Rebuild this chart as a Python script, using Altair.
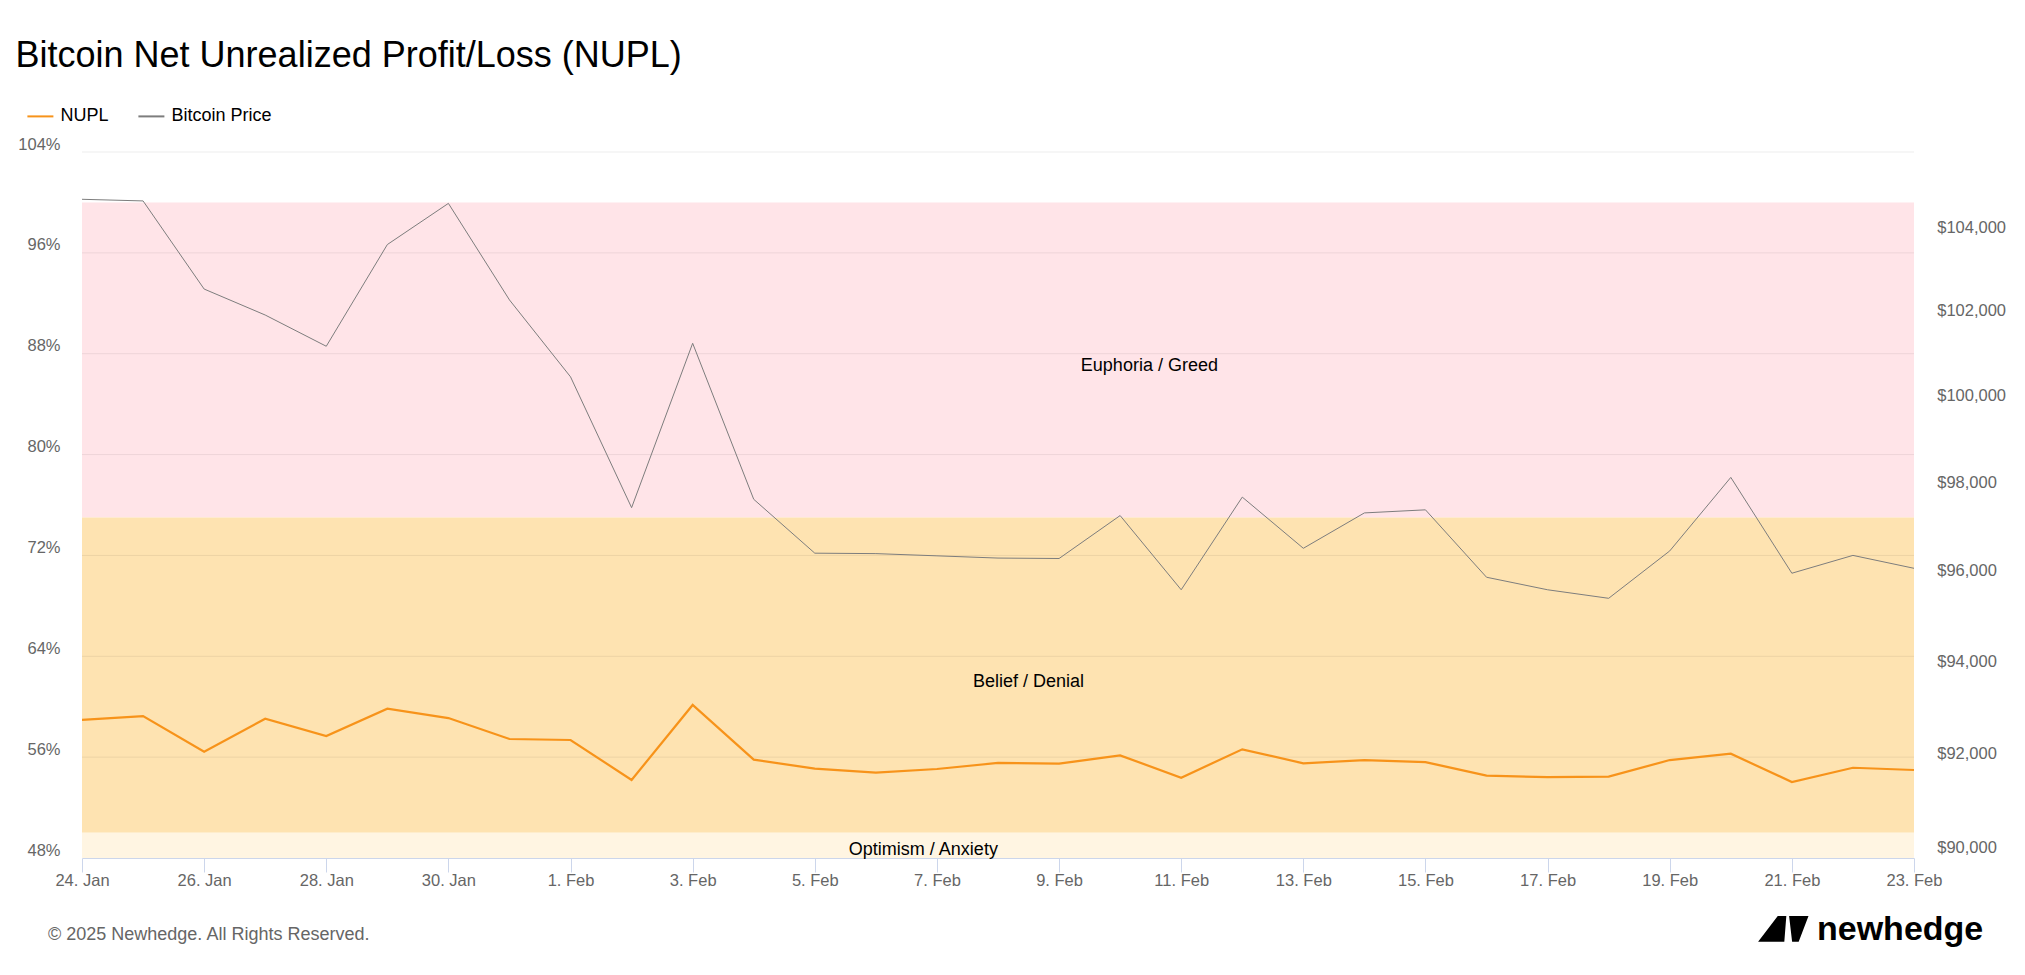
import altair as alt
import pandas as pd

FONT = "Liberation Sans"

# ---- data ----
dates = [f"2025-01-{d:02d}" for d in range(24, 32)] + [f"2025-02-{d:02d}" for d in range(1, 24)]

nupl_pct = [58.95, 59.26, 56.43, 59.05, 57.68, 59.84, 59.10, 57.44, 57.36, 54.19,
            60.14, 55.80, 55.09, 54.77, 55.06, 55.54, 55.48, 56.14, 54.37, 56.62,
            55.51, 55.77, 55.61, 54.53, 54.42, 54.45, 55.77, 56.27, 54.03, 55.16, 54.98]

btc_price = [104900, 104860, 102730, 102110, 101370, 103800, 104800, 102470, 100650, 97630,
             101440, 97820, 96600, 96590, 96540, 96490, 96480, 97450, 95780, 97870,
             96710, 97510, 97580, 96060, 95780, 95590, 96650, 98320, 96150, 96550, 96260]

series_names = ["NUPL", "Bitcoin Price"]
series_colors = ["#f7931a", "#7d7d7d"]

zone_names = ["Euphoria / Greed", "Belief / Denial", "Optimism / Anxiety"]
zone_lower = [75, 50, 25]
zone_upper = [100, 75, 50]
zone_colors = ["#ffe4e8", "#fee3b1", "#fff5e2"]
zone_label_dates = ["2025-02-10T11:30:00Z", "2025-02-08T12:00:00Z", "2025-02-06T18:40:00Z"]
zone_label_pos = [87.0, 62.0, 48.6]

left_ticks = [48, 56, 64, 72, 80, 88, 96, 104]
right_ticks = [90000, 92000, 94000, 96000, 98000, 100000, 102000, 104000]
x_tick_dates = dates[::2]

copyright_text = ["© 2025 Newhedge. All Rights Reserved."]
brand_text = ["newhedge"]

# ---- tables ----
df = pd.DataFrame({"date": dates, "nupl": nupl_pct, "price": btc_price})
zones = pd.DataFrame({"zone": zone_names, "lower": zone_lower, "upper": zone_upper,
                      "fill": zone_colors, "start": dates[0], "end": dates[-1]})
zone_labels = pd.DataFrame({"label": zone_names, "date": zone_label_dates, "pos": zone_label_pos})
grid_df = pd.DataFrame({"v": left_ticks[1:]})

x_scale = alt.Scale(type="utc")
y_left = alt.Scale(domain=[48, 104], nice=False, zero=False)
y_right = alt.Scale(type="log", domain=[89979, 106062], nice=False, zero=False)

x_ticks_dt = [alt.DateTime(year=int(d[:4]), month=int(d[5:7]), date=int(d[8:10]), utc=True)
              for d in x_tick_dates]

x_axis = alt.Axis(values=x_ticks_dt, format="%-d. %b", labelFlush=False, labelOverlap=False,
                  labelFontSize=16.5, labelColor="#666666", labelFont=FONT,
                  tickColor="#ccd6eb", tickSize=14, domainColor="#ccd6eb",
                  labelPadding=0.5, grid=False, title=None)

y_left_axis = alt.Axis(values=left_ticks, labelExpr="datum.value + '%'", orient="left",
                       grid=False, domain=False, ticks=False, tickSize=0, labelPadding=22,
                       labelOffset=-8, labelFontSize=16.5, labelColor="#666666", labelFont=FONT,
                       title=None)

legend = alt.Legend(title=None, orient="none", legendX=-55.6, legendY=-49.6, direction="horizontal",
                    symbolType="stroke", symbolSize=676, symbolStrokeWidth=2,
                    labelFontSize=18, labelFont=FONT, labelColor="#000000",
                    labelOffset=6, columnPadding=25, padding=0)
color_enc = alt.Color("series:N", scale=alt.Scale(domain=series_names, range=series_colors), legend=legend)

bands = alt.Chart(zones).mark_rect(clip=True).encode(
    x=alt.X("start:T", scale=x_scale, axis=x_axis),
    x2="end:T",
    y=alt.Y("upper:Q", scale=y_left, axis=y_left_axis),
    y2="lower:Q",
    fill=alt.Fill("fill:N", scale=None),
)

grid_rules = alt.Chart(grid_df).mark_rule(color="#000000", opacity=0.07, strokeWidth=1).encode(
    y=alt.Y("v:Q", scale=y_left, axis=y_left_axis),
)

band_text = alt.Chart(zone_labels).mark_text(fontSize=18, font=FONT, color="#000000").encode(
    x=alt.X("date:T", scale=x_scale, axis=x_axis),
    y=alt.Y("pos:Q", scale=y_left, axis=y_left_axis),
    text="label:N",
)

nupl_line = alt.Chart(df).transform_calculate(series="'NUPL'").mark_line(strokeWidth=2.2).encode(
    x=alt.X("date:T", scale=x_scale, axis=x_axis),
    y=alt.Y("nupl:Q", scale=y_left, axis=y_left_axis),
    color=color_enc,
)

price_line = alt.Chart(df).transform_calculate(series="'Bitcoin Price'").mark_line(strokeWidth=1).encode(
    x=alt.X("date:T", scale=x_scale, axis=x_axis),
    y=alt.Y("price:Q", scale=y_right,
            axis=alt.Axis(orient="right", values=right_ticks, format="$,.0f", grid=False,
                          domain=False, ticks=False, tickSize=0, labelPadding=22.7, labelOffset=-9,
                          labelFontSize=16.5, labelColor="#666666", labelFont=FONT, title=None)),
    color=color_enc,
)

copyright_mark = alt.Chart(pd.DataFrame({"t": copyright_text})).mark_text(
    align="left", baseline="middle", fontSize=18, font=FONT, color="#666666"
).encode(x=alt.value(-34), y=alt.value(783), text="t:N")

brand_mark = alt.Chart(pd.DataFrame({"t": brand_text})).mark_text(
    align="left", baseline="alphabetic", fontSize=34, font=FONT, fontWeight="bold", color="#000000"
).encode(x=alt.value(1735), y=alt.value(788), text="t:N")

logo_path = ("M -1 0.51 L -0.22 -0.51 L 0.12 -0.51 L 0.04 0.51 Z "
             "M 0.23 -0.51 L 1 -0.51 L 0.61 0.51 L 0.35 0.51 Z")
logo_mark = alt.Chart(pd.DataFrame({"t": brand_text})).mark_point(
    shape=logo_path, filled=True, color="#000000", opacity=1, size=2540
).encode(x=alt.value(1701.3), y=alt.value(776.8))

inner = alt.layer(bands, grid_rules, band_text, nupl_line)
chart = alt.layer(inner, price_line, copyright_mark, brand_mark, logo_mark).resolve_scale(
    y="independent"
).properties(
    width=1832,
    height=706,
    padding={"left": 82, "top": 152, "right": 111, "bottom": 117},
    autosize=alt.AutoSizeParams(type="none"),
    background="white",
    title=alt.TitleParams("Bitcoin Net Unrealized Profit/Loss (NUPL)", anchor="start", frame="group",
                          fontSize=36, fontWeight="normal", font=FONT, color="#000000",
                          dx=-66.5, dy=4, baseline="alphabetic", offset=3),
).configure_view(stroke=None)

chart.save("out.html", embed_options={"renderer": "svg", "actions": False})
